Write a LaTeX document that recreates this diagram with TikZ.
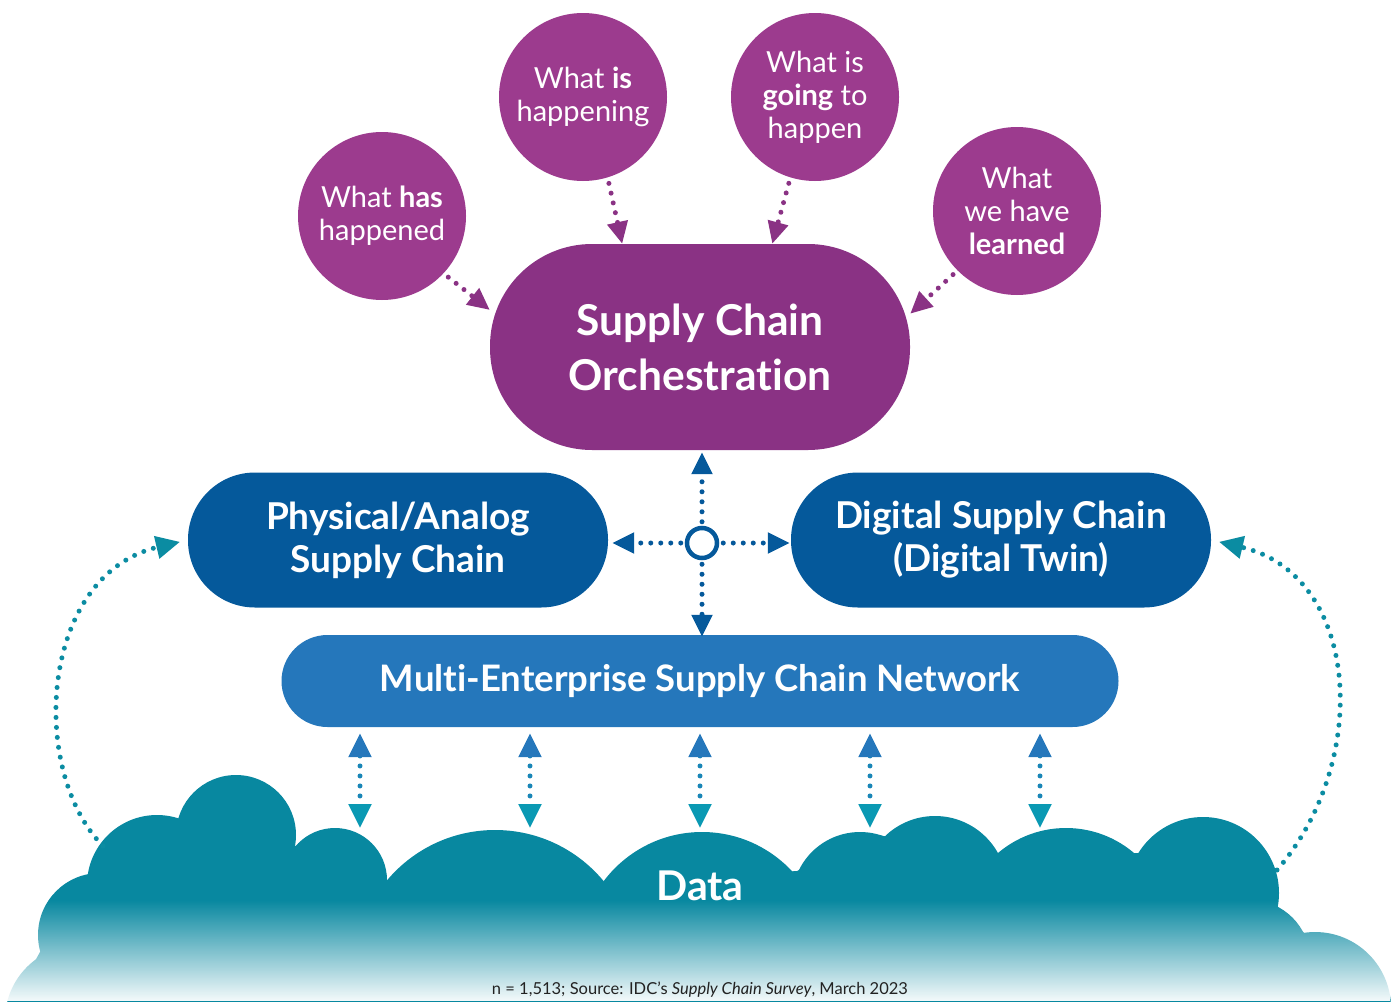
\documentclass[tikz,border=0pt]{standalone}
\usepackage{fontspec}
\setmainfont{Lato}[Ligatures={NoCommon,NoRare}]
\usetikzlibrary{arrows.meta,fadings,calc}
\definecolor{purpC}{HTML}{9C3B8E}
\definecolor{purpM}{HTML}{8A3284}
\definecolor{dblue}{HTML}{05599B}
\definecolor{mblue}{HTML}{2577BB}
\definecolor{cteal}{HTML}{0888A0}
\definecolor{ateal}{HTML}{0A99B3}
\definecolor{lteal}{HTML}{0B8CA2}
\definecolor{srcgray}{HTML}{222222}
\tikzfading[name=cloudfade, top color=transparent!100, bottom color=transparent!4]
\begin{document}
\begin{tikzpicture}[x=1pt,y=1pt,
  qcirc/.style={circle, fill=purpC, minimum size=168pt, inner sep=0pt, text=white, align=center, font=\fontsize{29}{33}\selectfont},
  orchbox/.style={rectangle, rounded corners=102pt, fill=purpM, minimum width=420pt, minimum height=206pt, text=white, align=center, font=\bfseries\fontsize{42.5}{55}\selectfont},
  sidebox/.style={rectangle, rounded corners=67pt, fill=dblue, minimum width=420pt, minimum height=135pt, text=white, align=center, font=\bfseries\fontsize{37}{43}\selectfont},
  netbox/.style={rectangle, rounded corners=46pt, fill=mblue, minimum width=837pt, minimum height=92pt, text=white, align=center, font=\bfseries\fontsize{36.5}{40}\selectfont},
  dotline/.style={line width=5pt, line cap=round, dash pattern=on 0pt off 10pt},
  ptip/.style={-{Triangle[length=22pt,width=20pt]}},
]
\useasboundingbox (0,0) rectangle (1394,-1001);
\clip (0,0) rectangle (1394,-1001);

% cloud: lobes painted one by one, plus a filler under the cusps
\foreach \cx/\cy/\r in {80/1020/75, 100/935/62, 157/885/70, 236/835/60, 335/880/52,
    495/971/141, 702/955/123, 860/900/68, 935/888/72, 1066/933/105, 1203/893/76,
    1250/960/60, 1315/1008/76}{
  \fill[cteal] (\cx,-\cy) circle[radius=\r];
}
\fill[cteal] (8,-1010) -- (40,-952) -- (100,-870) -- (180,-820) -- (293,-845) -- (385,-884)
  -- (607,-883) -- (797,-871) -- (878,-835) -- (997,-857) -- (1138,-853) -- (1277,-912)
  -- (1303,-932) -- (1390,-1010) -- cycle;
\fill[white, path fading=cloudfade] (0,-900) rectangle (1394,-1001);

\coordinate (cloudL) at (103,-846);
\coordinate (cloudR) at (1277,-870);

% top circles
\node[qcirc] (c1) at (382,-216) {What \textbf{has}\\happened};
\node[qcirc] (c2) at (583,-97) {What \textbf{is}\\happening};
\node[qcirc] (c3) at (815,-97) {What is\\\textbf{going} to\\happen};
\node[qcirc] (c4) at (1017,-211) {What\\we have\\\textbf{learned}};

% main boxes
\node[orchbox] (orch) at (700,-347) {Supply Chain\\Orchestration};
\node[sidebox] (phys) at (398,-540) {Physical/Analog\\Supply Chain};
\node[sidebox] (dig) at (1001,-540) {Digital Supply Chain\\(Digital Twin)};
\node[netbox] (net) at (700,-681) {Multi-Enterprise Supply Chain Network};
\node[font=\bfseries\fontsize{41}{46}\selectfont, text=white] (data) at (700,-886) {Data};

% purple arrows
\draw[purpM, dotline, ptip, shorten <=6pt] (c1.-43) -- (orch.170);
\draw[purpM, dotline, ptip, shorten <=6pt] (c2.-73) -- (orch.127);
\draw[purpM, dotline, ptip, shorten <=6pt] (c3.-107) -- (orch.55);
\draw[purpM, dotline, ptip, shorten <=6pt] (c4.-135) -- (orch.9);

% hub
\node[circle, draw=dblue, line width=4.5pt, fill=white, minimum size=30pt, inner sep=0pt] (hub) at (702,-543) {};
\draw[dblue, dotline, ptip, shorten <=4pt, shorten >=2pt] (hub.north) -- (orch.south -| hub);
\draw[dblue, dotline, ptip, shorten <=4pt, shorten >=-2pt] (hub.south) -- (net.north -| hub);
\draw[dblue, dotline, ptip, shorten <=4pt, shorten >=4pt] (hub.west) -- (phys.east |- hub);
\draw[dblue, dotline, ptip, shorten <=4pt, shorten >=1pt] (hub.east) -- (dig.west |- hub);

% vertical double arrows
\foreach \i/\xx in {1/360,2/530,3/700,4/870,5/1040}{
  \coordinate (d\i) at (\xx,-828);
  \draw[color=mblue!55!ateal, dotline, shorten <=6pt,
        {Triangle[length=24pt,width=22pt,color=mblue]}-{Triangle[length=24pt,width=22pt,color=ateal]}]
        (net.south -| d\i) -- (d\i);
}

% curved teal arrows
\draw[lteal, dotline, -{Triangle[length=24pt,width=22pt]}, shorten >=8pt]
  (cloudL) .. controls (28,-770) and (40,-575) .. (phys.west);
\draw[lteal, dotline, -{Triangle[length=24pt,width=22pt]}, shorten >=8pt]
  (cloudR) .. controls (1372,-760) and (1360,-575) .. (dig.east);

% source
\node[text=srcgray, font=\fontsize{16.5}{18}\selectfont] (src) at (700,-990)
  {n = 1,513; Source: IDC’s \textit{Supply Chain Survey}, March 2023};
\end{tikzpicture}
\end{document}
